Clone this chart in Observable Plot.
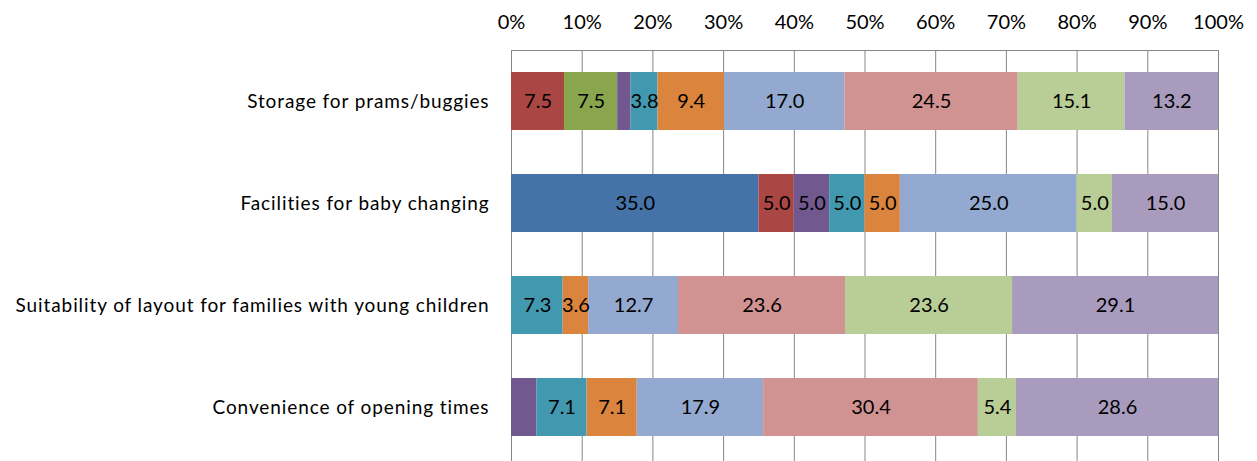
<!DOCTYPE html>
<html>
<head>
<meta charset="utf-8">
<script src="https://cdn.jsdelivr.net/npm/d3@7"></script>
<script src="https://cdn.jsdelivr.net/npm/@observablehq/plot@0.6"></script>
<style>
  html, body { margin: 0; padding: 0; background: #fff; }
  #chart svg { display: block; }
</style>
</head>
<body>
<div id="chart"></div>
<script>
const categories = [
  "Storage for prams/buggies",
  "Facilities for baby changing",
  "Suitability of layout for families with young children",
  "Convenience of opening times"
];
const series = ["1", "2", "3", "4", "5", "6", "7", "8", "9", "10"];
const seriesColors = ["#4572A7", "#AA4643", "#89A54E", "#71588F", "#4198AF", "#DB843D", "#93A9CF", "#D19392", "#B9CD96", "#A99BBD"];

const storageValues     = [0, 7.5, 7.5, 1.9, 3.8, 9.4, 17.0, 24.5, 15.1, 13.2];
const facilitiesValues  = [35.0, 5.0, 0, 5.0, 5.0, 5.0, 25.0, 0, 5.0, 15.0];
const suitabilityValues = [0, 0, 0, 0, 7.3, 3.6, 12.7, 23.6, 23.6, 29.1];
const convenienceValues = [0, 0, 0, 3.6, 7.1, 7.1, 17.9, 30.4, 5.4, 28.6];
const valueLists = [storageValues, facilitiesValues, suitabilityValues, convenienceValues];

// labels not shown in the original
const hiddenLabels = [
  ["Storage for prams/buggies", "4"],
  ["Convenience of opening times", "4"]
];

const xTicks = [0, 10, 20, 30, 40, 50, 60, 70, 80, 90, 100];

const rows = [];
categories.forEach((c, i) => {
  valueLists[i].forEach((v, j) => {
    if (v > 0) rows.push({category: c, series: series[j], value: v});
  });
});
const isHidden = d => hiddenLabels.some(([c, s]) => c === d.category && s === d.series);

const font = "Lato, 'Open Sans', sans-serif";

const chart = Plot.plot({
  width: 1257,
  height: 461,
  marginTop: 50,
  marginBottom: 3,
  marginLeft: 511,
  marginRight: 39,
  style: {fontFamily: font, fontSize: "19px", color: "#000", background: "#fff"},
  x: {domain: [0, 1], axis: null},
  y: {domain: categories, paddingInner: 0.43, paddingOuter: 0.215, axis: null},
  color: {domain: series, range: seriesColors},
  marks: [
    Plot.ruleX(xTicks, {x: d => d / 100, stroke: "#868686", strokeWidth: 1, insetBottom: -3}),
    Plot.frame({anchor: "top", stroke: "#868686"}),
    Plot.barX(rows, Plot.stackX({
      x: "value", y: "category", fill: "series", z: "series",
      offset: "normalize", order: null
    })),
    Plot.text(rows, Plot.stackX({
      x: "value", y: "category", z: "series",
      offset: "normalize", order: null,
      text: d => isHidden(d) ? "" : d.value.toFixed(1),
      fill: "#000", fontSize: 20
    })),
    Plot.axisX(xTicks.map(d => d / 100), {
      anchor: "top", tickSize: 0, tickPadding: 22, label: null,
      tickFormat: d => Math.round(d * 100) + "%", fontSize: 20, fill: "#000"
    }),
    Plot.axisY(categories, {
      anchor: "left", tickSize: 0, tickPadding: 22, label: null,
      fontSize: 19, fill: "#000"
    })
  ]
});
chart.querySelectorAll("g[aria-label='y-axis tick label'] text").forEach(t => t.setAttribute("letter-spacing", "0.9px"));
document.getElementById("chart").appendChild(chart);
</script>
</body>
</html>
